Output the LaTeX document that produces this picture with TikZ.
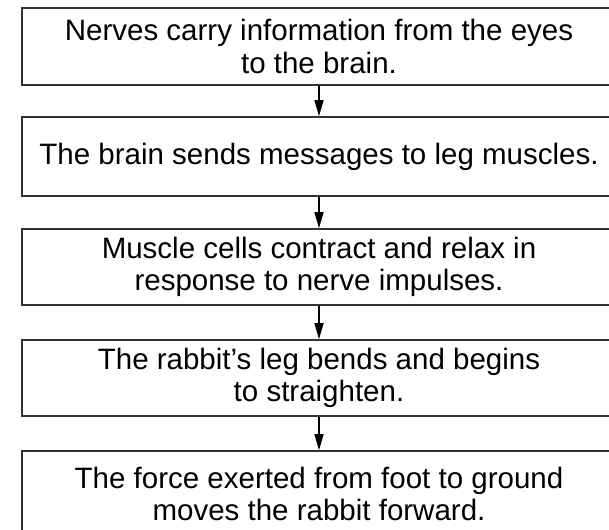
\documentclass[tikz,border=0pt]{standalone}
\usepackage{fontspec}
\setmainfont{Liberation Sans}
\usetikzlibrary{arrows.meta}

\tikzset{
  stepbox/.style={draw=black!80, line width=1.6pt, minimum width=594pt,
    align=center, inner sep=0pt, font=\fontsize{29.5}{32.5}\selectfont},
  flow/.style={-{Triangle[length=16pt,width=9pt]}, line width=1.4pt}
}

\begin{document}
\begin{tikzpicture}[x=1pt,y=-1pt]
  \def\cx{319}
  \useasboundingbox (0,0) rectangle (609,529);
  \node [stepbox, minimum height=77pt] (eyes) at (\cx, 46.5) {Nerves carry information from the eyes\\to the brain.};
  \node [stepbox, minimum height=79pt] (brain) at (\cx, 156.5) {The brain sends messages to leg muscles.};
  \node [stepbox, minimum height=76pt] (muscle) at (\cx, 267) {Muscle cells contract and relax in\\response to nerve impulses.};
  \node [stepbox, minimum height=76pt] (leg) at (\cx, 378) {The rabbit’s leg bends and begins\\to straighten.};
  \node [stepbox, minimum height=86pt] (force) at (\cx, 494) {The force exerted from foot to ground\\moves the rabbit forward.};

  \draw [flow] (eyes) -- (brain);
  \draw [flow] (brain) -- (muscle);
  \draw [flow] (muscle) -- (leg);
  \draw [flow] (leg) -- (force);
\end{tikzpicture}
\end{document}
